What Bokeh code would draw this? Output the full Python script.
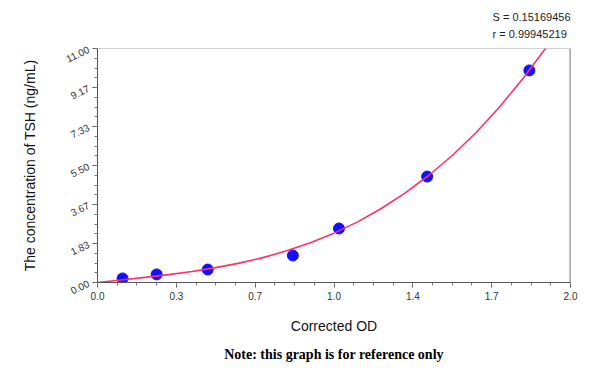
from bokeh.plotting import figure
from bokeh.models import FixedTicker, Span, Title, Range1d, CustomJSTickFormatter
from bokeh.embed import file_html
from bokeh.resources import INLINE

# measured calibration points (Corrected OD vs TSH ng/mL)
od = [0.106, 0.250, 0.466, 0.826, 1.021, 1.394, 1.826]
conc = [0.19, 0.38, 0.61, 1.27, 2.54, 4.98, 9.97]

# fitted curve
curve_od = [0.0, 0.1, 0.2, 0.3, 0.4, 0.5, 0.6, 0.7, 0.8, 0.9, 1.0, 1.1, 1.2, 1.3,
            1.4, 1.5, 1.6, 1.7, 1.8, 1.9, 1.95]
curve_conc = [0.0, 0.12, 0.24, 0.37, 0.52, 0.70, 0.91, 1.17, 1.49, 1.87, 2.32, 2.85, 3.48, 4.20,
              5.03, 5.97, 7.04, 8.25, 9.60, 11.09, 11.90]

x_ticks = [0.0, 1 / 3, 2 / 3, 1.0, 4 / 3, 5 / 3, 2.0]
x_tick_labels = ["0.0", "0.3", "0.7", "1.0", "1.4", "1.7", "2.0"]
y_ticks = [0.0, 11 / 6, 22 / 6, 33 / 6, 44 / 6, 55 / 6, 11.0]
y_tick_labels = ["0.00", "1.83", "3.67", "5.50", "7.33", "9.17", "11.00"]

s_text = "S = 0.15169456"
r_text = "r = 0.99945219"
note_text = "Note: this graph is for reference only"

p = figure(width=584, height=370, output_backend="svg", toolbar_location=None,
           x_range=Range1d(0, 2.0), y_range=Range1d(0, 11.0),
           min_border_left=97, min_border_right=14, min_border_top=47, min_border_bottom=88)
p.grid.visible = False
p.outline_line_color = "#d0d0d0"
p.background_fill_color = "white"
p.border_fill_color = "white"

font = "Liberation Sans"
for ax in (p.xaxis[0], p.yaxis[0]):
    ax.axis_line_color = "#555555"
    ax.major_tick_line_color = "#555555"
    ax.minor_tick_line_color = "#777777"
    ax.major_tick_in = 0
    ax.minor_tick_in = 0
    ax.major_tick_out = 5
    ax.minor_tick_out = 3
    ax.major_label_text_font = font
    ax.major_label_text_font_size = "10px"
    ax.major_label_text_color = "#333333"
    ax.axis_label_text_font = font
    ax.axis_label_text_font_size = "14px"
    ax.axis_label_text_font_style = "normal"
    ax.axis_label_text_color = "#111111"

p.xaxis.ticker = FixedTicker(ticks=x_ticks, minor_ticks=[i * 2.0 / 24 for i in range(25)])
p.yaxis.ticker = FixedTicker(ticks=y_ticks, minor_ticks=[i * 11.0 / 24 for i in range(25)])
p.xaxis.formatter = CustomJSTickFormatter(args=dict(labels=x_tick_labels),
                                          code="return labels[Math.round(tick*3)];")
p.yaxis.formatter = CustomJSTickFormatter(args=dict(labels=y_tick_labels),
                                          code="return labels[Math.round(tick*6/11)];")
p.yaxis.major_label_orientation = 0.45
p.xaxis.major_label_standoff = 4
p.yaxis.major_label_standoff = 4
p.xaxis.axis_label = "Corrected OD"
p.yaxis.axis_label = "The concentration of TSH (ng/mL)"
p.xaxis.axis_label_standoff = 15
p.yaxis.axis_label_standoff = 22

p.add_layout(Span(location=2.0, dimension="height", line_color="#8c8c8c", line_width=2))

p.scatter(od, conc, size=11, fill_color="#1010ff", line_color="#1010ff")
p.line(curve_od, curve_conc, line_color="#ff2f6a", line_width=1.6, line_join="round")

p.add_layout(Title(text=s_text + "\n" + r_text, align="right", text_font=font, text_font_size="11px",
                   text_font_style="normal", text_color="#222222", text_line_height=1.4,
                   standoff=17), "above")
p.add_layout(Title(text=note_text, align="center", text_font="Liberation Serif", text_font_size="14px",
                   text_font_style="bold", text_color="#000000", standoff=16), "below")

open("out.html", "w").write(file_html(p, INLINE))
